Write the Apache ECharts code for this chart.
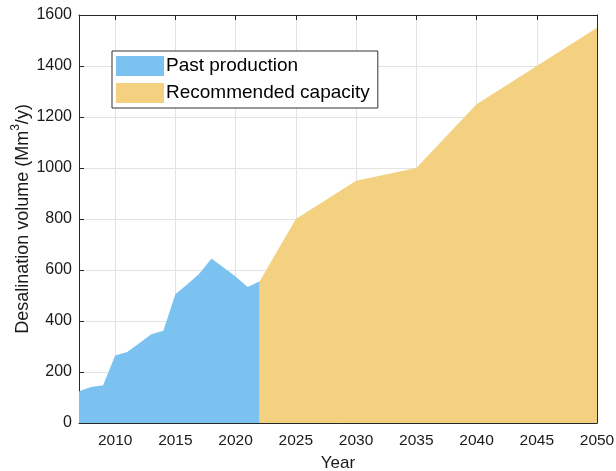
<!DOCTYPE html>
<html>
<head>
<meta charset="utf-8">
<script src="https://cdn.jsdelivr.net/npm/echarts@6/dist/echarts.min.js"></script>
<style>
  html, body { margin: 0; padding: 0; background: #fff; }
  #chart { width: 616px; height: 471px; }
</style>
</head>
<body>
<div id="chart"></div>
<script>
// Historical desalination output (Mm3/y)
const pastYears = [2007, 2008, 2009, 2010, 2011, 2012, 2013, 2014, 2015, 2016, 2017, 2018, 2019, 2020, 2021, 2022];
const pastValues = [125, 141, 148, 265, 278, 313, 348, 362, 505, 544, 586, 645, 610, 575, 533, 556];

// Recommended future capacity (Mm3/y)
const planYears = [2022, 2025, 2030, 2035, 2040, 2045, 2050];
const planValues = [556, 800, 950, 1000, 1250, 1400, 1550];

const seriesNames = ['Past production', 'Recommended capacity'];
const seriesColors = ['#7bc2f1', '#f3d180'];

const FONT = 'Liberation Sans, Arial, Helvetica, sans-serif';
const AXIS_COLOR = '#262626';
const TEXT_COLOR = '#1a1a1a';

const toPairs = (xs, ys) => xs.map((x, i) => [x, ys[i]]);

const chart = echarts.init(document.getElementById('chart'), null, { renderer: 'canvas' });

// Top and right axes close the plot box (ticks only, no labels)
const boxAxis = {
  axisLine: { show: true, onZero: false, lineStyle: { color: AXIS_COLOR, width: 1 } },
  axisTick: { show: true, inside: true, length: 5, lineStyle: { color: AXIS_COLOR } },
  axisLabel: { show: false },
  splitLine: { show: false }
};

chart.setOption({
  animation: false,
  textStyle: { fontFamily: FONT },
  grid: { left: 79, right: 19, top: 15, bottom: 48, containLabel: false, outerBoundsMode: 'none' },
  legend: {
    orient: 'vertical',
    left: 112,
    top: 51,
    data: seriesNames,
    icon: 'rect',
    itemWidth: 48,
    itemHeight: 20,
    itemGap: 7,
    padding: [5, 8, 5, 4],
    backgroundColor: '#fff',
    borderColor: '#333',
    borderWidth: 1,
    textStyle: { fontSize: 19, color: '#000', fontFamily: FONT, padding: [6, 0, 0, -3] }
  },
  xAxis: [
    {
      type: 'value',
      min: 2007,
      max: 2050,
      splitNumber: 8,
      name: 'Year',
      nameLocation: 'middle',
      nameGap: 32,
      nameMoveOverlap: false,
      nameTextStyle: { fontSize: 17, color: TEXT_COLOR, fontFamily: FONT },
      axisLine: { show: true, onZero: false, lineStyle: { color: AXIS_COLOR, width: 1 } },
      axisTick: { show: true, inside: true, length: 5, lineStyle: { color: AXIS_COLOR } },
      axisLabel: {
        showMinLabel: false,
        fontSize: 15.5,
        color: TEXT_COLOR,
        margin: 10,
        fontFamily: FONT,
        formatter: v => String(v)
      },
      splitLine: { show: true, lineStyle: { color: '#e3e3e3', width: 1 } }
    },
    Object.assign({ type: 'value', min: 2007, max: 2050, splitNumber: 8, position: 'top' }, boxAxis)
  ],
  yAxis: [
    {
      type: 'value',
      min: 0,
      max: 1600,
      interval: 200,
      name: '{t|Desalination volume (Mm}{s|3}{t|/y)}',
      nameLocation: 'middle',
      nameRotate: 90,
      nameGap: 47,
      nameMoveOverlap: false,
      nameTextStyle: {
        fontSize: 18,
        color: TEXT_COLOR,
        fontFamily: FONT,
        rich: {
          t: { fontSize: 18, color: TEXT_COLOR, fontFamily: FONT, lineHeight: 22, verticalAlign: 'bottom' },
          s: { fontSize: 12, color: TEXT_COLOR, fontFamily: FONT, lineHeight: 14, verticalAlign: 'top' }
        }
      },
      axisLine: { show: true, onZero: false, lineStyle: { color: AXIS_COLOR, width: 1 } },
      axisTick: { show: true, inside: true, length: 5, lineStyle: { color: AXIS_COLOR } },
      axisLabel: { fontSize: 16, color: TEXT_COLOR, margin: 7, fontFamily: FONT, formatter: v => String(v) },
      splitLine: { show: true, lineStyle: { color: '#e3e3e3', width: 1 } }
    },
    Object.assign({ type: 'value', min: 0, max: 1600, interval: 200, position: 'right' }, boxAxis)
  ],
  series: [
    {
      name: seriesNames[0],
      type: 'line',
      data: toPairs(pastYears, pastValues),
      color: seriesColors[0],
      symbol: 'none',
      lineStyle: { width: 0 },
      areaStyle: { color: seriesColors[0], opacity: 1 },
      z: 1
    },
    {
      name: seriesNames[1],
      type: 'line',
      data: toPairs(planYears, planValues),
      color: seriesColors[1],
      symbol: 'none',
      lineStyle: { width: 0 },
      areaStyle: { color: seriesColors[1], opacity: 1 },
      z: 1
    }
  ]
});
</script>
</body>
</html>
